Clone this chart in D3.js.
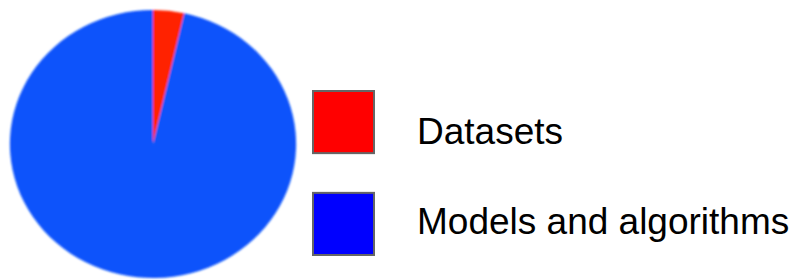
<!DOCTYPE html>
<html>
<head>
<meta charset="utf-8">
<script src="https://cdn.jsdelivr.net/npm/d3@7"></script>
<style>
  body { margin: 0; background: #ffffff; }
  svg { display: block; }
</style>
</head>
<body>
<div id="chart"></div>
<script>
var categories = ['Datasets', 'Models and algorithms'];
var values = [3.5, 96.5];
var slice_colors = ['#ff2200', '#0a52fb'];
var legend_colors = ['#ff0000', '#0000ff'];

// SVG Element
var chart_width = 796;
var chart_height = 280;
var svg = d3.select('#chart')
    .append('svg')
    .attr('width', chart_width)
    .attr('height', chart_height);

// soft edge like the scanned original
svg.append('defs')
    .append('filter')
    .attr('id', 'soft')
    .append('feGaussianBlur')
    .attr('stdDeviation', 0.8);

var pie = d3.pie().sort(null).value(function (d) { return d; });
var arc = d3.arc().innerRadius(0).outerRadius(134);

// pie is a bit wider than tall in the reference
var pie_g = svg.append('g')
    .attr('transform', 'translate(153,144) scale(1.068,1)')
    .attr('filter', 'url(#soft)');

pie_g.selectAll('path')
    .data(pie(values))
    .enter()
    .append('path')
    .attr('d', arc)
    .attr('fill', function (d, i) { return slice_colors[i]; });

// Legend swatches
var y_legend = d3.scaleBand()
    .domain(d3.range(categories.length))
    .range([91, 255])
    .paddingInner(0.39);

// labels sit a little closer together than the swatches
var y_label = d3.scalePoint()
    .domain(d3.range(categories.length))
    .range([144, 234]);

svg.selectAll('rect.swatch')
    .data(categories)
    .enter()
    .append('rect')
    .attr('class', 'swatch')
    .attr('x', 313)
    .attr('y', function (d, i) { return y_legend(i); })
    .attr('width', 61)
    .attr('height', y_legend.bandwidth())
    .attr('fill', function (d, i) { return legend_colors[i]; })
    .attr('stroke', '#666666')
    .attr('stroke-width', 2);

svg.selectAll('text.label')
    .data(categories)
    .enter()
    .append('text')
    .attr('class', 'label')
    .text(function (d) { return d; })
    .attr('x', 417)
    .attr('y', function (d, i) { return y_label(i); })
    .attr('font-family', 'Liberation Sans, Arial, sans-serif')
    .attr('font-size', 37)
    .attr('fill', '#000000');
</script>
</body>
</html>
